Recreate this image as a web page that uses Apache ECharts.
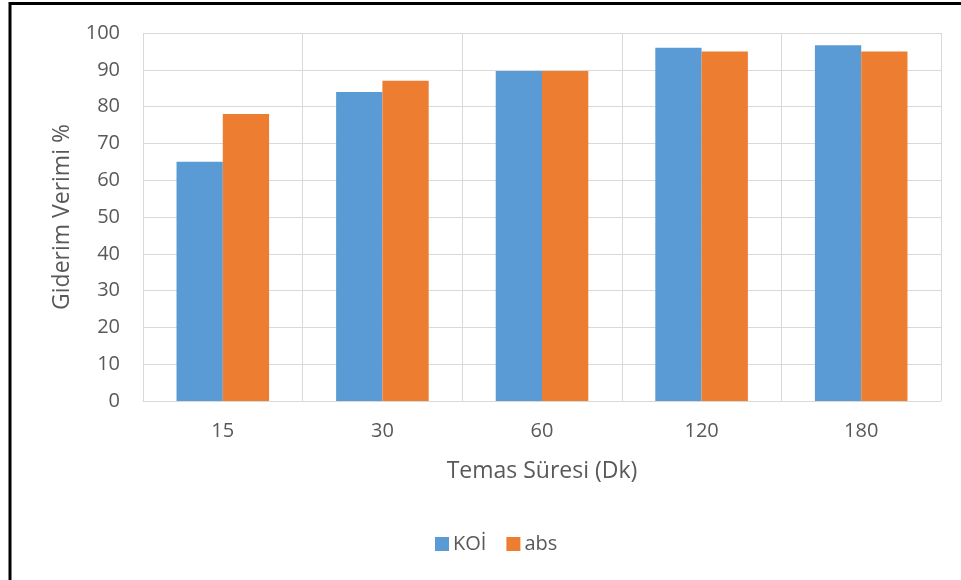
<!DOCTYPE html>
<html>
<head>
<meta charset="utf-8">
<script src="https://cdn.jsdelivr.net/npm/echarts@6/dist/echarts.min.js"></script>
<style>
  html, body { margin: 0; padding: 0; background: #fff; }
  #chart { width: 961px; height: 580px; }
</style>
</head>
<body>
<div id="chart"></div>
<script>
// Contact time (minutes) on the category axis
const categories = ['15', '30', '60', '120', '180'];
// Removal efficiency (%) per series
const koiValues = [65, 84, 89.7, 96, 96.7];
const absValues = [78, 87, 89.7, 95, 95];
const yTicks = { min: 0, max: 100, interval: 10 };

const textColor = '#595959';
const gridColor = '#D9D9D9';
const fontFamily = '"Open Sans", "Noto Sans", sans-serif';

const chart = echarts.init(document.getElementById('chart'), null, { renderer: 'canvas' });

chart.setOption({
  backgroundColor: '#ffffff',
  animation: false,
  textStyle: { fontFamily: fontFamily },
  graphic: [
    // frame lines along the top and left edge
    { type: 'line', shape: { x1: 10, y1: 3.5, x2: 961, y2: 3.5 }, style: { stroke: '#000', lineWidth: 3 } },
    { type: 'line', shape: { x1: 10, y1: 2, x2: 10, y2: 580 }, style: { stroke: '#000', lineWidth: 3 } }
  ],
  grid: { left: 143, right: 20, top: 33, bottom: 179, containLabel: false },
  legend: {
    data: ['KOİ', 'abs'],
    top: 529,
    left: 430,
    itemWidth: 14,
    itemHeight: 14,
    itemGap: 20,
    icon: 'rect',
    textStyle: { color: textColor, fontSize: 20, fontFamily: fontFamily, padding: [0, 0, 0, -1] }
  },
  xAxis: {
    type: 'category',
    data: categories,
    name: 'Temas Süresi (Dk)',
    nameLocation: 'middle',
    nameGap: 59,
    nameTextStyle: { color: textColor, fontSize: 23, fontFamily: fontFamily },
    axisLine: { show: true, lineStyle: { color: gridColor, width: 1 } },
    axisTick: { show: false },
    axisLabel: { color: textColor, fontSize: 20, margin: 20, fontFamily: fontFamily },
    splitLine: { show: true, lineStyle: { color: gridColor, width: 1 } }
  },
  yAxis: {
    type: 'value',
    min: yTicks.min,
    max: yTicks.max,
    interval: yTicks.interval,
    name: 'Giderim Verimi %',
    nameLocation: 'middle',
    nameGap: 69,
    nameRotate: 90,
    nameTextStyle: { color: textColor, fontSize: 23, fontFamily: fontFamily },
    axisLine: { show: false },
    axisTick: { show: false },
    axisLabel: { color: textColor, fontSize: 20, margin: 23, fontFamily: fontFamily },
    splitLine: { show: true, lineStyle: { color: gridColor, width: 1 } }
  },
  series: [
    {
      name: 'KOİ',
      type: 'bar',
      data: koiValues,
      barGap: '0%',
      barCategoryGap: '42%',
      itemStyle: { color: '#5B9BD5' }
    },
    {
      name: 'abs',
      type: 'bar',
      data: absValues,
      barGap: '0%',
      barCategoryGap: '42%',
      itemStyle: { color: '#ED7D31' }
    }
  ]
});
</script>
</body>
</html>
